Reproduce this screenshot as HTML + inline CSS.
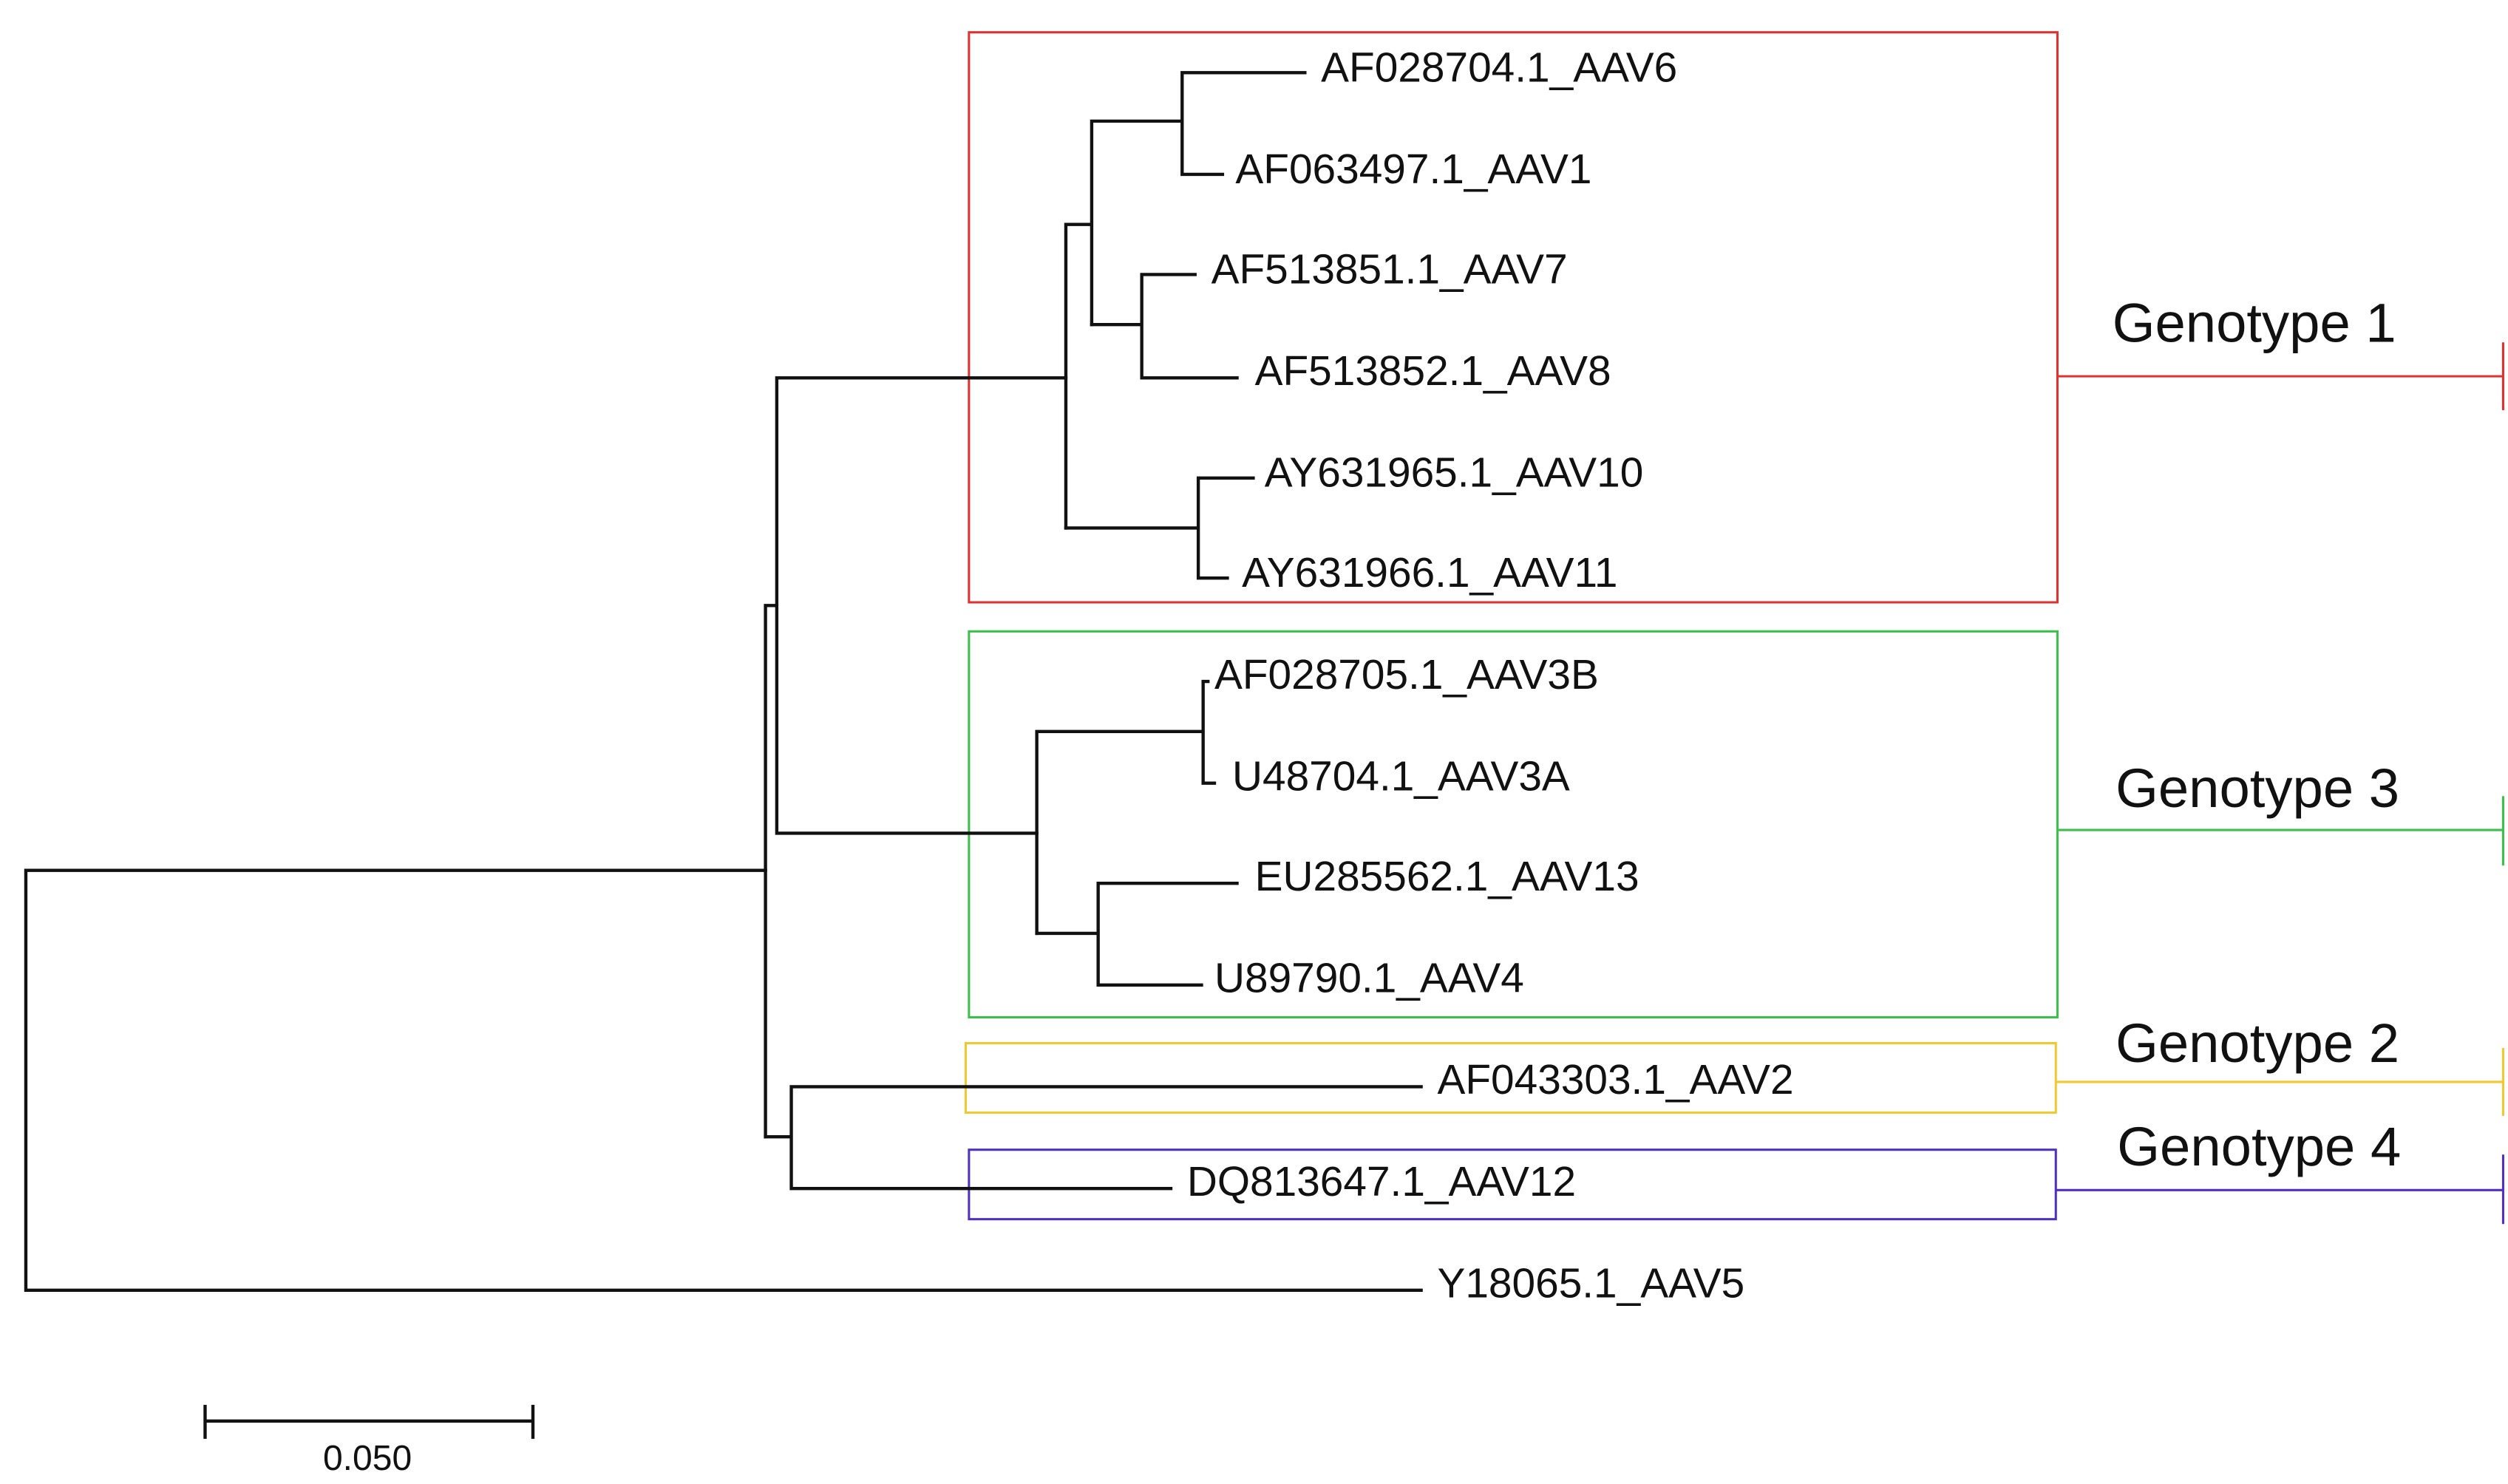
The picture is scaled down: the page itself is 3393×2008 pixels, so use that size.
<!DOCTYPE html>
<html><head><meta charset="utf-8"><style>html,body{margin:0;padding:0;background:#fff}svg{display:block}</style></head>
<body>
<svg width="3393" height="2008" viewBox="0 0 1553 919" preserveAspectRatio="none" xmlns="http://www.w3.org/2000/svg">
<rect width="1553" height="919" fill="#fff"/>
<g fill="none" stroke-width="1.4">
<rect x="600" y="20" width="674" height="353" stroke="#e03030"/>
<rect x="600" y="391" width="674" height="239" stroke="#3cc04a"/>
<rect x="598" y="646" width="675" height="43" stroke="#f0c830"/>
<rect x="600" y="712" width="673" height="43" stroke="#5030c0"/>
<path d="M1274 233H1550M1550 212V254" stroke="#e03030"/>
<path d="M1274 514H1550M1550 493V536" stroke="#3cc04a"/>
<path d="M1273 670H1550M1550 649V691" stroke="#f0c830"/>
<path d="M1273 737H1550M1550 715V758" stroke="#5030c0"/>
</g>
<g fill="none" stroke="#111" stroke-width="2" stroke-linecap="square">
<path d="M16 539V799M16 539H474M16 799H880"/>
<path d="M474 375V704M474 375H481M481 234V516M481 234H660M481 516H642"/>
<path d="M474 704H490M490 673V736M490 673H880M490 736H725"/>
<path d="M660 139V327M660 139H676M676 75V201M676 75H732M732 45V108M732 45H808M732 108H757"/>
<path d="M676 201H707M707 170V234M707 170H740M707 234H766"/>
<path d="M660 327H742M742 296V358M742 296H776M742 358H760"/>
<path d="M642 453V578M642 453H745M745 422V485M745 422H748M745 485H752"/>
<path d="M642 578H680M680 547V610M680 547H766M680 610H744"/>
<path d="M127 880H330M127 871V890M330 871V890"/>
</g>
<g font-family="'Liberation Sans', Arial, sans-serif" font-size="26" fill="#111" dominant-baseline="central">
<text x="818" y="42">AF028704.1_AAV6</text>
<text x="765" y="105">AF063497.1_AAV1</text>
<text x="750" y="167">AF513851.1_AAV7</text>
<text x="777" y="230">AF513852.1_AAV8</text>
<text x="783" y="293">AY631965.1_AAV10</text>
<text x="769" y="355">AY631966.1_AAV11</text>
<text x="752" y="418">AF028705.1_AAV3B</text>
<text x="763" y="481">U48704.1_AAV3A</text>
<text x="777" y="543">EU285562.1_AAV13</text>
<text x="752" y="606">U89790.1_AAV4</text>
<text x="890" y="669">AF043303.1_AAV2</text>
<text x="735" y="732">DQ813647.1_AAV12</text>
<text x="890" y="795">Y18065.1_AAV5</text>
<text x="200" y="903" font-size="22">0.050</text>
<g font-size="34">
<text x="1308" y="200">Genotype 1</text>
<text x="1310" y="488">Genotype 3</text>
<text x="1310" y="646">Genotype 2</text>
<text x="1311" y="710">Genotype 4</text>
</g>
</g>
</svg>
</body></html>
